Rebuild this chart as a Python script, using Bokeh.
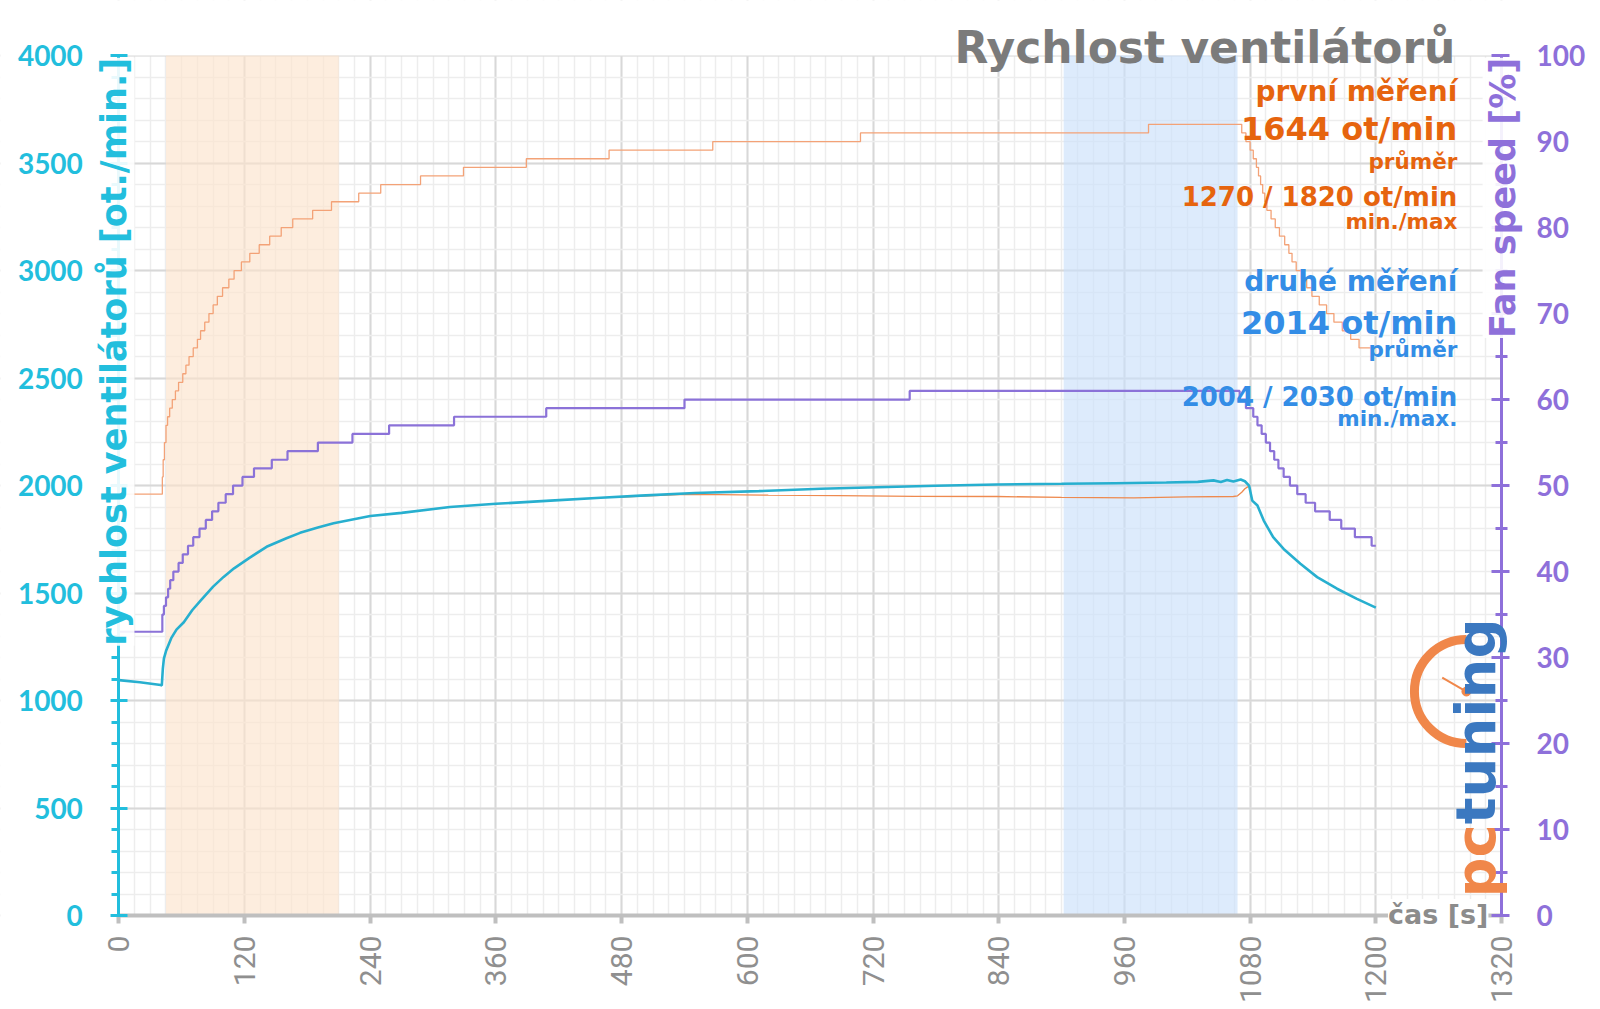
import math
from bokeh.plotting import figure
from bokeh.models import Range1d, LinearAxis, FixedTicker, Label, ColumnDataSource, BoxAnnotation
from bokeh.embed import file_html
from bokeh.resources import INLINE

# ---------------- data ----------------
time_ticks = list(range(0, 1321, 120))
time_minor = list(range(0, 1321, 15))
rpm_ticks = list(range(0, 4001, 500))
rpm_minor = list(range(0, 4001, 100))
pct_ticks = list(range(0, 101, 10))
pct_minor = list(range(0, 101, 5))

# second measurement - fan rpm (cyan)
rpm2_t = [0, 20, 40, 41, 42, 43, 45, 50, 55, 62, 70, 78, 90, 100, 110, 125, 141, 160, 173, 190,
          205, 240, 270, 316, 360, 412, 460, 498, 550, 611, 670, 724, 780, 838, 900, 951, 1000, 1030, 1045, 1052,
          1058, 1064, 1071, 1075, 1079, 1082, 1087, 1093, 1102, 1112, 1128, 1144, 1163, 1182, 1200]
rpm2 = [1095, 1085, 1072, 1070, 1150, 1195, 1230, 1290, 1330, 1364, 1420, 1465, 1530, 1575, 1615, 1665, 1715, 1755, 1780, 1805,
        1825, 1858, 1873, 1900, 1915, 1930, 1943, 1953, 1965, 1974, 1985, 1992, 1999, 2005, 2008, 2011, 2014, 2017, 2024, 2016,
        2026, 2019, 2028, 2020, 2000, 1930, 1907, 1837, 1760, 1705, 1636, 1574, 1520, 1473, 1432]

# first measurement - fan rpm (orange, visible part)
rpm1_t = [480, 500, 535, 573, 620, 687, 760, 838, 900, 969, 1020, 1064, 1068, 1072, 1075, 1078]
rpm1 = [1946, 1951, 1958, 1958, 1955, 1953, 1950, 1949, 1945, 1943, 1947, 1949, 1952, 1969, 1985, 1995]

# first measurement - fan speed % (orange staircase)
fan1_t = [0, 41.5, 42.3, 43.5, 45, 46.5, 48.5, 51, 54, 57, 61, 64, 67, 71, 75, 78, 82, 86, 90, 94,
          99, 105, 110, 117, 125, 134, 144, 155, 166, 185, 203, 229, 250, 288, 329, 389, 468, 567, 708, 983,
          1072, 1076, 1080, 1083, 1086, 1088, 1090, 1092, 1094, 1096, 1100, 1104, 1108, 1113, 1117, 1120, 1124, 1129, 1134, 1139,
          1146, 1153, 1160, 1168, 1176, 1184, 1200]
fan1_pct = [49, 51, 53, 55, 57, 58, 59, 60, 61, 62, 63, 64, 65, 66, 67, 68, 69, 70, 71, 72,
            73, 74, 75, 76, 77, 78, 79, 80, 81, 82, 83, 84, 85, 86, 87, 88, 89, 90, 91, 92,
            91, 90, 89, 88, 87, 86, 85, 84, 83, 82, 81, 80, 79, 78, 77, 76, 75, 74, 73, 72,
            71, 70, 69, 68, 67, 66, 66]

# second measurement - fan speed % (purple staircase)
fan2_t = [0, 41.5, 43, 45, 47, 49, 52, 57, 61, 66, 71, 77, 83, 89, 95, 102, 109, 118, 129, 146,
          161, 190, 223, 258, 320, 408, 540, 755, 1070, 1076, 1083, 1087, 1091, 1095, 1099, 1103, 1107, 1112, 1118, 1125,
          1133, 1142, 1156, 1167, 1180, 1196, 1200]
fan2_pct = [33, 35, 36, 37, 38, 39, 40, 41, 42, 43, 44, 45, 46, 47, 48, 49, 50, 51, 52, 53,
            54, 55, 56, 57, 58, 59, 60, 61, 60, 59, 58, 57, 56, 55, 54, 53, 52, 51, 50, 49,
            48, 47, 46, 45, 44, 43, 43]

# highlighted intervals
zone_start = [45, 902]
zone_end = [210, 1068]
zone_colors = ["#FCE3CC", "#CBE0FA"]

# summary texts
title_text = "Rychlost ventilátorů"
first_lines = ["první měření", "1644 ot/min", "průměr", "1270 / 1820 ot/min", "min./max"]
second_lines = ["druhé měření", "2014 ot/min", "průměr", "2004 / 2030 ot/min", "min./max."]

# ---------------- styling ----------------
CYAN_AX = "#22BEDD"
CYAN_LINE = "#27AFCF"
PURPLE = "#8E70DA"
PURPLE_LINE = "#8B72D8"
ORANGE_TXT = "#E6640E"
BLUE_TXT = "#338DE6"
GREY = "#8C8C8C"

X0, X1 = 0, 1320          # plotted time span
Y0, Y1 = 0, 4000          # plotted rpm span
# the frame covers the whole page; axes are pinned to the data box
XR = (-113.0, 1414.5)
YR = (-437.0, 4256.0)
PCT_PER_RPM = 100 / 4000

p = figure(width=1600, height=1009, x_range=Range1d(*XR), y_range=Range1d(*YR),
           output_backend="svg", toolbar_location=None,
           min_border=0, min_border_left=0, min_border_right=0, min_border_top=0, min_border_bottom=0)
p.title.visible = False
p.outline_line_color = None
p.background_fill_color = "white"
p.border_fill_color = "white"
p.extra_y_ranges = {"pct": Range1d(YR[0] * PCT_PER_RPM, YR[1] * PCT_PER_RPM)}

# axes
xa = p.xaxis[0]
xa.fixed_location = Y0
xa.bounds = (X0, X1)
xa.ticker = FixedTicker(ticks=time_ticks, minor_ticks=time_minor)
xa.axis_line_color = "#BFBFBF"
xa.axis_line_width = 4
xa.major_tick_line_color = "#BFBFBF"
xa.major_tick_line_width = 4
xa.major_tick_out = 8
xa.major_tick_in = 0
xa.minor_tick_line_color = None
xa.major_label_orientation = math.pi / 2
xa.major_label_text_font = "Roboto"
xa.major_label_text_font_size = "30px"
xa.major_label_text_color = "#8F8F8F"
xa.major_label_standoff = 12

ya = p.yaxis[0]
ya.fixed_location = X0
ya.bounds = (Y0, Y1)
ya.ticker = FixedTicker(ticks=rpm_ticks, minor_ticks=rpm_minor)
ya.axis_line_color = CYAN_AX
ya.axis_line_width = 3
ya.major_tick_line_color = CYAN_AX
ya.major_tick_line_width = 3
ya.major_tick_out = 8
ya.major_tick_in = 9
ya.minor_tick_line_color = CYAN_AX
ya.minor_tick_line_width = 3
ya.minor_tick_out = 7
ya.minor_tick_in = 0
ya.major_label_text_font = "Lato"
ya.major_label_text_font_style = "bold"
ya.major_label_text_font_size = "28px"
ya.major_label_text_color = CYAN_AX
ya.major_label_standoff = 28

ra = LinearAxis(y_range_name="pct")
ra.fixed_location = X1
ra.bounds = (0, 100)
ra.ticker = FixedTicker(ticks=pct_ticks, minor_ticks=pct_minor)
ra.axis_line_color = PURPLE
ra.axis_line_width = 3
ra.major_tick_line_color = PURPLE
ra.major_tick_line_width = 3
ra.major_tick_out = 8
ra.major_tick_in = 10
ra.minor_tick_line_color = PURPLE
ra.minor_tick_line_width = 3
ra.minor_tick_out = 6
ra.minor_tick_in = 6
ra.major_label_text_font = "Lato"
ra.major_label_text_font_style = "bold"
ra.major_label_text_font_size = "28px"
ra.major_label_text_color = PURPLE
ra.major_label_standoff = 27
p.add_layout(ra, "right")

# grids
p.xgrid.ticker = FixedTicker(ticks=time_ticks, minor_ticks=time_minor)
p.ygrid.ticker = FixedTicker(ticks=rpm_ticks, minor_ticks=rpm_minor)
for g in (p.xgrid[0], p.ygrid[0]):
    g.grid_line_color = "#D8D8D8"
    g.grid_line_width = 2
    g.minor_grid_line_color = "#EDEDED"
    g.minor_grid_line_width = 1.5

# white margins hide grid lines outside the data box
for kw in (dict(right=X0), dict(left=X1), dict(bottom=Y1), dict(top=Y0)):
    p.add_layout(BoxAnnotation(fill_color="white", fill_alpha=1, line_color=None, level="underlay", **kw))

# highlighted zones
zones = ColumnDataSource(dict(left=zone_start, right=zone_end, color=zone_colors))
p.quad(left="left", right="right", bottom=Y0, top=Y1, fill_color="color", fill_alpha=0.65,
       line_color=None, source=zones)

# series
p.step(fan1_t, fan1_pct, mode="after", y_range_name="pct", line_color="#F3A277", line_width=1.3)
p.line(rpm1_t, rpm1, line_color="#EE8A4F", line_width=1.3)
p.step(fan2_t, fan2_pct, mode="after", y_range_name="pct", line_color=PURPLE_LINE, line_width=2.2)
p.line(rpm2_t, rpm2, line_color=CYAN_LINE, line_width=2.6)

# logo (decoration)
LOGO_ORANGE = "#F0874A"
LOGO_BLUE = "#3B78C0"
p.arc(x=[1286.5], y=[1042], radius=52, radius_units="screen", start_angle=math.pi / 2,
      end_angle=3 * math.pi / 2, line_color=LOGO_ORANGE, line_width=9)
p.segment(x0=[1263.4], y0=[1107], x1=[1286.5], y1=[1042], line_color=LOGO_ORANGE, line_width=2)
p.scatter(x=[1286.5], y=[1042], size=9, color=LOGO_ORANGE)
p.add_layout(Label(x=1295, y=84, text="pc", angle=math.pi / 2, text_font="DejaVu Sans",
                   text_font_style="bold", text_font_size="56px", text_color=LOGO_ORANGE,
                   text_align="left", text_baseline="alphabetic"))
p.add_layout(Label(x=1295, y=425, text="tuning", angle=math.pi / 2, text_font="DejaVu Sans",
                   text_font_style="bold", text_font_size="56px", text_color=LOGO_BLUE,
                   text_align="left", text_baseline="alphabetic"))

# axis titles (drawn over the axis lines, as in the original)
p.add_layout(Label(x=-4.2, y=3990, text="rychlost ventilátorů [ot./min.]", angle=math.pi / 2,
                   text_font="DejaVu Sans", text_font_style="bold", text_font_size="35px",
                   text_color=CYAN_AX, text_align="right", text_baseline="middle",
                   background_fill_color="white", background_fill_alpha=0.9))
p.add_layout(Label(x=1321, y=3990, text="Fan speed [%]", angle=math.pi / 2,
                   text_font="DejaVu Sans", text_font_style="bold", text_font_size="35px",
                   text_color=PURPLE, text_align="right", text_baseline="middle",
                   background_fill_color="white", background_fill_alpha=0.9))
p.add_layout(Label(x=1307.5, y=5, text="čas [s]", text_font="DejaVu Sans", text_font_style="bold",
                   text_font_size="27px", text_color=GREY, text_align="right", text_baseline="middle",
                   background_fill_color="white", background_fill_alpha=1))

# title and summary
TX = 1277.8
p.add_layout(Label(x=TX - 1.8, y=4039, text=title_text, text_font="DejaVu Sans", text_font_style="bold",
                   text_font_size="44px", text_color="#7B7B7B", text_align="right",
                   text_baseline="alphabetic"))
ys1 = [3831, 3660, 3506, 3340, 3228]
ys2 = [2949, 2757, 2633, 2413, 2311]
sizes = ["28px", "32px", "21.5px", "26px", "21.5px"]
for lines, ys, col in ((first_lines, ys1, ORANGE_TXT), (second_lines, ys2, BLUE_TXT)):
    for t, yy, s in zip(lines, ys, sizes):
        p.add_layout(Label(x=TX, y=yy, text=t, text_font="DejaVu Sans", text_font_style="bold",
                           text_font_size=s, text_color=col, text_align="right",
                           text_baseline="alphabetic"))

open("out.html", "w").write(file_html(p, INLINE))
